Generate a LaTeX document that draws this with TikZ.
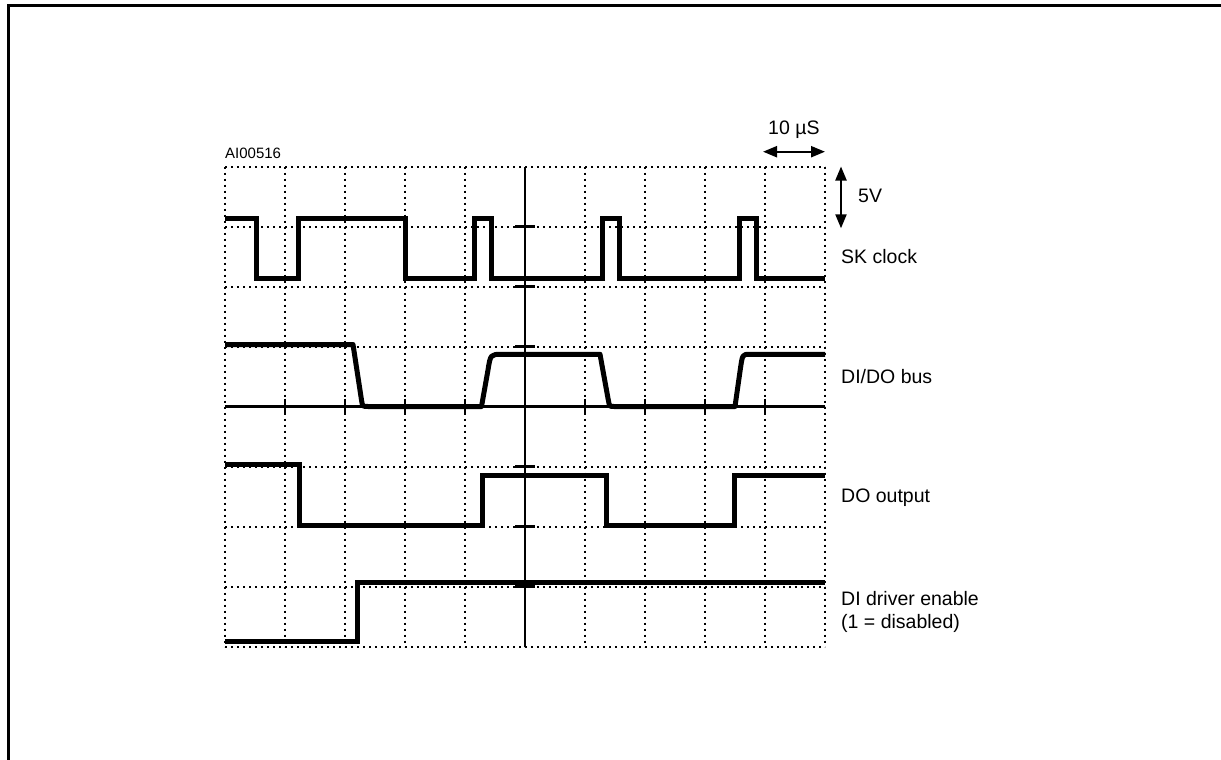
\documentclass[tikz,border=0pt]{standalone}
\usepackage{fontspec}
\setmainfont{Liberation Sans}
\usetikzlibrary{arrows.meta}
\begin{document}
\begin{tikzpicture}[x=1pt,y=-1pt,
  gridline/.style={line width=2pt, dash pattern=on 2pt off 4pt},
  axisline/.style={line width=2.2pt},
  signal/.style={line width=5pt, line join=miter, line cap=butt},
  lbl/.style={anchor=base west, inner sep=0pt, font=\fontsize{19.5}{23}\selectfont},
  smalllbl/.style={anchor=base west, inner sep=0pt, font=\fontsize{15}{18}\selectfont},
  dimarrow/.style={line width=2.2pt, {Triangle[length=14pt,width=11pt]}-{Triangle[length=14pt,width=11pt]}}]
\useasboundingbox (0,0) rectangle (1221,760);
% frame
\draw[line width=3pt] (8,760) -- (8,6) -- (1221,6);
% dotted grid
\foreach \i in {0,...,10} \draw[gridline] (225+60*\i,166.5) -- (225+60*\i,646.5);
\foreach \j in {0,...,8} \draw[gridline] (225,166.5+60*\j) -- (825,166.5+60*\j);
% axes
\draw[axisline] (525,166.5) -- (525,646.5);
\draw[axisline] (225,406.5) -- (825,406.5);
\foreach \j in {1,2,3,5,6,7} \draw[axisline] (515,166.5+60*\j) -- (535,166.5+60*\j);
\foreach \i in {1,2,3,4,6,7,8,9} \draw[axisline] (225+60*\i,398.5) -- (225+60*\i,414.5);
% SK clock
\draw[signal] (225,218.5) -| (256,278.5) -| (298,218.5) -| (405,278.5) -| (474,218.5)
  -| (491,278.5) -| (602,218.5) -| (619,278.5) -| (739,218.5) -| (756,278.5) -- (825,278.5);
% DI/DO bus
\draw[signal, line join=round] (225,344.5) -- (353,344.5) -- (361.5,400) .. controls (362.5,406.5) .. (368,406.5)
  -- (481.5,406.5) -- (488,370) .. controls (490.5,354.3) .. (502,354.3)
  -- (600,354.3) -- (608.3,400) .. controls (609.5,406.5) .. (614,406.5)
  -- (735,406.5) -- (740.5,368) .. controls (742.5,354.3) .. (750,354.3) -- (825,354.3);
% DO output
\draw[signal] (225,464.5) -| (299,525.7) -| (482,475) -| (606,525.7) -| (734.5,475) -- (825,475);
% DI driver enable
\draw[signal] (225,641) -| (357.7,582.3) -- (825,582.3);
% labels
\node[smalllbl] (id) at (225,158.3) {AI00516};
\node[lbl] (tscale) at (768,134) {10 µS};
\node[lbl] (vscale) at (858,202) {5V};
\node[lbl] (sk) at (841,263.3) {SK clock};
\node[lbl] (bus) at (841,383.3) {DI/DO bus};
\node[lbl] (dout) at (841,502.3) {DO output};
\node[lbl] (den) at (841,605.7) {DI driver enable};
\node[lbl] (den2) at (841,628.7) {(1 = disabled)};
% scale arrows
\coordinate (ta) at (763,151.7);
\coordinate (tb) at (825,151.7);
\coordinate (va) at (841,166.5);
\coordinate (vb) at (841,228.3);
\draw[dimarrow] (ta) -- (tb);
\draw[dimarrow] (va) -- (vb);
\end{tikzpicture}
\end{document}
